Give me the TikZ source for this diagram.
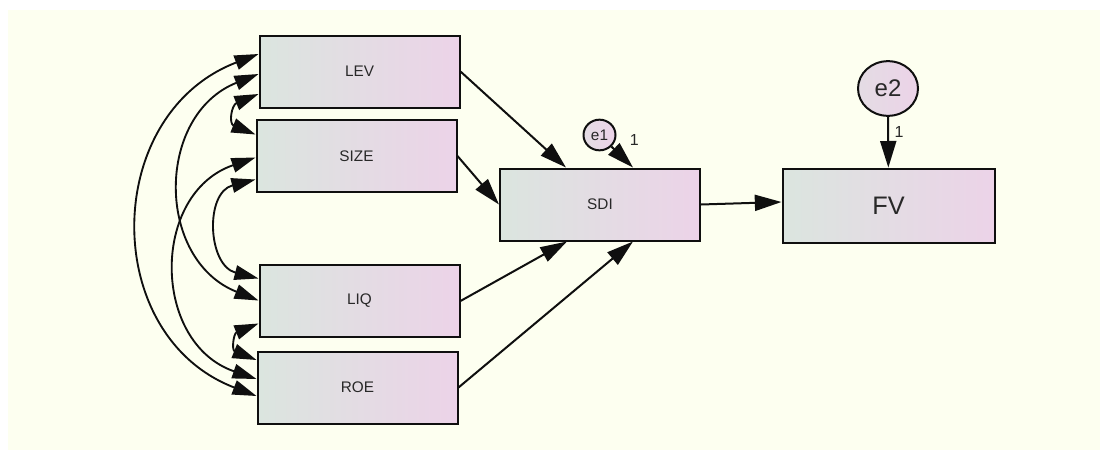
\documentclass[tikz,border=0pt]{standalone}
\usepackage{fontspec}
\setmainfont{Liberation Sans}
\usepackage{tikz}
\usetikzlibrary{arrows.meta,calc,shapes.geometric}

\definecolor{paper}{RGB}{253,255,240}
\definecolor{boxleft}{RGB}{219,229,223}
\definecolor{boxright}{RGB}{236,211,232}
\definecolor{ink}{RGB}{15,15,15}
\definecolor{txt}{RGB}{40,40,40}

\tikzset{
  var/.style={rectangle, draw=ink, line width=1.5pt, minimum width=150pt, minimum height=54pt,
    inner sep=0pt, left color=boxleft, right color=boxright, text=txt,
    font=\fontsize{11.5}{12}\selectfont},
  err/.style={ellipse, draw=ink, line width=1.5pt, inner sep=0pt,
    left color=boxleft!50!boxright, right color=boxright, text=txt},
  reg/.style={draw=ink, line width=1.5pt, -{Triangle[length=20pt,width=12pt]}},
  cov/.style={draw=ink, line width=1.4pt,
    {Triangle[length=18pt,width=11pt]}-{Triangle[length=18pt,width=11pt]}},
  lbl/.style={inner sep=0pt, text=txt, font=\fontsize{12}{12}\selectfont}
}

\begin{document}
\begin{tikzpicture}[x=0.75pt,y=-0.75pt]
  \fill[white] (0,0) rectangle (1100,450);
  \fill[paper] (8,10) rectangle (1100,450);
  \useasboundingbox (0,0) rectangle (1100,450);

  % observed variables
  \foreach \n/\lab/\x/\y in {lev/LEV/359.5/71.5, size/SIZE/356.5/156, liq/LIQ/359.5/301,
                             roe/ROE/357.5/387.5, sdi/SDI/600/204.5}
    \node[var] (\n) at (\x,\y) {\lab};
  \node[var, minimum width=159pt, minimum height=56pt, font=\fontsize{19}{20}\selectfont] (fv) at (888.5,206) {FV};

  % error terms
  \node[err, minimum width=24pt, minimum height=23pt, font=\fontsize{11.5}{12}\selectfont] (e1) at (599.5,135) {e1};
  \node[err, minimum width=45pt, minimum height=41pt, font=\fontsize{18}{18}\selectfont] (e2) at (888,88.5) {e2};

  % regression paths
  \draw[reg] (lev.east) -- ($(sdi.north)+(-34,0)$);
  \draw[reg] (size.east) -- (sdi.west);
  \draw[reg] (liq.east) -- ($(sdi.south)+(-33,0)$);
  \draw[reg] (roe.east) -- ($(sdi.south)+(33,0)$);
  \draw[reg] (sdi.east) -- ($(fv.west)+(0,-4)$);
  \draw[reg] (e1) -- ($(sdi.north)+(33,0)$) node[lbl, pos=0, anchor=south west, xshift=13pt] {1};
  \draw[reg] (e2) -- (fv) node[lbl, pos=0.3, anchor=west, xshift=4pt] {1};

  % covariances
  \draw[cov] ($(lev.west)+(0,-17.5)$) .. controls +(-157,60) and +(-157,-60) .. ($(roe.west)+(0,8.5)$);
  \draw[cov] ($(lev.west)+(0,2.5)$) .. controls +(-103,41) and +(-103,-41) .. ($(liq.west)+(0,-0.5)$);
  \draw[cov] ($(size.west)+(0,1.5)$) .. controls +(-105,36) and +(-105,-36) .. ($(roe.west)+(0,-8.5)$);
  \draw[cov] ($(size.west)+(0,23.5)$) .. controls +(-51,13) and +(-51,-13) .. ($(liq.west)+(0,-22.5)$);
  \draw[cov] ($(lev.west)+(0,22.5)$) .. controls +(-27,11) and +(-27,-11) .. ($(size.west)+(0,-21.5)$);
  \draw[cov] ($(liq.west)+(0,22.5)$) .. controls +(-25,10) and +(-25,-10) .. ($(roe.west)+(0,-27.5)$);
\end{tikzpicture}
\end{document}
